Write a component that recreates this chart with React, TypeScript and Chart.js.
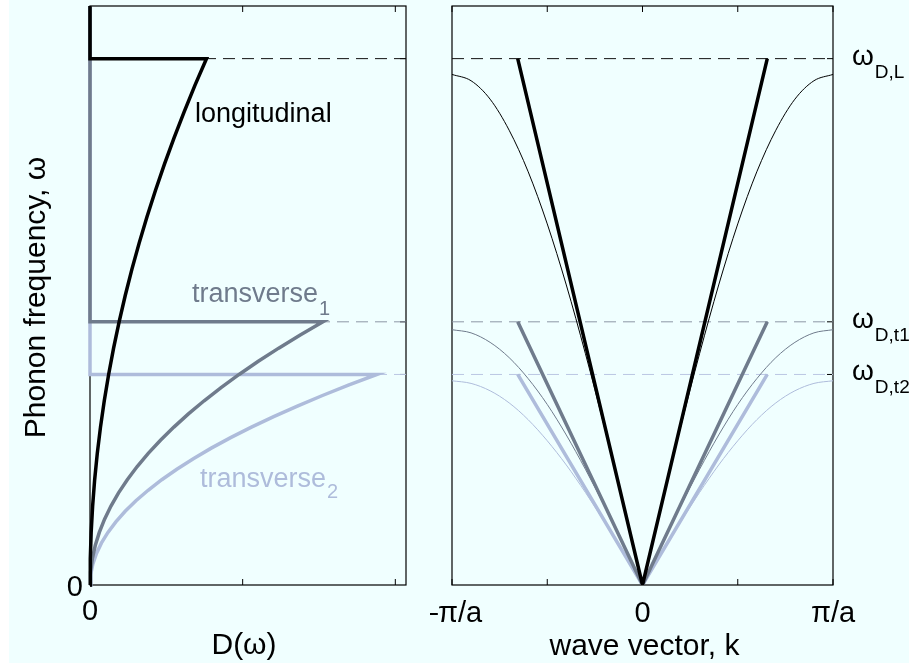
import React, { useEffect, useRef } from "react";
import { Chart, registerables } from "chart.js";

Chart.register(...registerables);

const FONT = "'Liberation Sans', Arial, Helvetica, sans-serif";
const BG = "#f0ffff";

// Branch colours: longitudinal, transverse 1, transverse 2
const colLon = "#000000";
const colT1 = "#6f7b8c";
const colT2 = "#aebcdb";
const dashLon = "#111111";
const dashT1 = "#8c96a5";
const dashT2 = "#bac7e3";

// Debye cut-off frequencies (units of the longitudinal cut-off)
const omegaDebye = [1.0, 0.5, 0.4];
const debyeSubs = ["D,L", "D,t1", "D,t2"];
// Debye wave vector, in units of pi/a
const kDebye = 0.655;

// Axis limits
const omegaMax = 1.1;
const dosMax = 2.07;

// Density of states D(omega) for each branch
const lonOmega = [0, 0.05, 0.1, 0.15, 0.2, 0.25, 0.3, 0.35, 0.4, 0.45, 0.5, 0.55, 0.6, 0.65, 0.7, 0.75, 0.8, 0.85, 0.9, 0.95, 1.0];
const lonDos = [0, 0.0019, 0.0076, 0.0172, 0.0305, 0.0477, 0.0687, 0.0935, 0.1221, 0.1545, 0.1908, 0.2308, 0.2747, 0.3224, 0.3739, 0.4292, 0.4883, 0.5513, 0.618, 0.6886, 0.763];

const t1Omega = [0, 0.025, 0.05, 0.075, 0.1, 0.125, 0.15, 0.175, 0.2, 0.225, 0.25, 0.275, 0.3, 0.325, 0.35, 0.375, 0.4, 0.425, 0.45, 0.475, 0.5];
const t1Dos = [0, 0.0038, 0.0153, 0.0343, 0.061, 0.0954, 0.1373, 0.1869, 0.2442, 0.309, 0.3815, 0.4616, 0.5494, 0.6447, 0.7477, 0.8584, 0.9766, 1.1025, 1.2361, 1.3772, 1.526];

const t2Omega = [0, 0.02, 0.04, 0.06, 0.08, 0.1, 0.12, 0.14, 0.16, 0.18, 0.2, 0.22, 0.24, 0.26, 0.28, 0.3, 0.32, 0.34, 0.36, 0.38, 0.4];
const t2Dos = [0, 0.0047, 0.0188, 0.0423, 0.0752, 0.1175, 0.1692, 0.2303, 0.3008, 0.3807, 0.47, 0.5687, 0.6768, 0.7943, 0.9212, 1.0575, 1.2032, 1.3583, 1.5228, 1.6967, 1.88];

// Lattice dispersion omega(k) for k >= 0 (mirror-symmetric in k)
const kGrid = [0, 0.1, 0.2, 0.3, 0.4, 0.5, 0.6, 0.7, 0.8, 0.9, 1.0];
const lonDisp = [0, 0.152, 0.3, 0.44, 0.57, 0.686, 0.785, 0.864, 0.923, 0.958, 0.97];
const t1Disp = [0, 0.076, 0.15, 0.22, 0.285, 0.343, 0.392, 0.432, 0.461, 0.479, 0.485];
const t2Disp = [0, 0.061, 0.12, 0.176, 0.228, 0.274, 0.314, 0.346, 0.369, 0.383, 0.388];

// Tick positions and labels
const dosTicks = [0, 1, 2];
const kTicks = [-1, -0.5, 0, 0.5, 1];
const kTickLabels: [number, string][] = [[-1, "\u2013\u03c0/a"], [0, "0"], [1, "\u03c0/a"]];

const branchColors = [colLon, colT1, colT2];
const dashColors = [dashLon, dashT1, dashT2];

type Pt = { x: number; y: number };

function dosPoints(dos: number[], om: number[], cut: number): Pt[] {
  const pts = dos.map((d, i) => ({ x: d, y: om[i] }));
  pts.push({ x: 0, y: cut });
  pts.push({ x: 0, y: omegaMax });
  return pts;
}

function dispHalf(vals: number[], sign: number): Pt[] {
  const pts = kGrid.map((k, i) => ({ x: sign * k, y: vals[i] }));
  return sign < 0 ? pts.reverse() : pts;
}

function seg(ctx: CanvasRenderingContext2D, x1: number, y1: number, x2: number, y2: number) {
  ctx.beginPath();
  ctx.moveTo(x1, y1);
  ctx.lineTo(x2, y2);
  ctx.stroke();
}

function subText(
  ctx: CanvasRenderingContext2D,
  main: string,
  sub: string,
  x: number,
  y: number,
  mainSize: number,
  subSize: number,
  dy: number,
  color: string
) {
  ctx.fillStyle = color;
  ctx.textAlign = "left";
  ctx.textBaseline = "alphabetic";
  ctx.font = `${mainSize}px ${FONT}`;
  ctx.fillText(main, x, y);
  const w = ctx.measureText(main).width;
  ctx.font = `${subSize}px ${FONT}`;
  ctx.fillText(sub, x + w + 1, y + dy);
}

function frame(chart: any, xTicks: number[], tickLen: number) {
  const { ctx, chartArea: a, scales } = chart;
  const x = scales.x;
  const y = scales.y;
  ctx.save();
  ctx.strokeStyle = "#000";
  ctx.lineWidth = 1.2;
  ctx.strokeRect(a.left, a.top, a.right - a.left, a.bottom - a.top);
  ctx.lineWidth = 1;
  xTicks.forEach((v) => {
    const px = x.getPixelForValue(v);
    seg(ctx, px, a.bottom, px, a.bottom - tickLen);
    seg(ctx, px, a.top, px, a.top + tickLen);
  });
  omegaDebye.forEach((v) => {
    const py = y.getPixelForValue(v);
    seg(ctx, a.right - tickLen, py, a.right, py);
  });
  ctx.restore();
}

const leftDecor = {
  id: "leftDecor",
  beforeDatasetsDraw(chart: any) {
    frame(chart, dosTicks, 6);
  },
  afterDraw(chart: any) {
    const { ctx, chartArea: a, scales } = chart;
    const x = scales.x;
    const y = scales.y;
    ctx.save();
    ctx.fillStyle = "#000";
    ctx.font = `29px ${FONT}`;
    ctx.textBaseline = "alphabetic";
    ctx.textAlign = "center";
    ctx.fillText("0", x.getPixelForValue(0), 620);
    ctx.textAlign = "right";
    ctx.fillText("0", a.left - 7, y.getPixelForValue(0) + 11);

    // axis titles
    ctx.font = `30px ${FONT}`;
    ctx.textAlign = "center";
    ctx.fillText("D(\u03c9)", (a.left + a.right) / 2 - 4, 654);
    ctx.save();
    ctx.translate(45, (a.top + a.bottom) / 2 + 2);
    ctx.rotate(-Math.PI / 2);
    ctx.fillText("Phonon frequency, \u03c9", 0, 0);
    ctx.restore();

    // branch labels
    ctx.font = `27px ${FONT}`;
    ctx.textAlign = "left";
    ctx.fillStyle = colLon;
    ctx.fillText("longitudinal", x.getPixelForValue(0.688), y.getPixelForValue(0.88));
    subText(ctx, "transverse", "1", x.getPixelForValue(0.668), y.getPixelForValue(0.538), 27, 20, 13, colT1);
    subText(ctx, "transverse", "2", x.getPixelForValue(0.72), y.getPixelForValue(0.186), 27, 20, 11, colT2);
    ctx.restore();
  },
};

const rightDecor = {
  id: "rightDecor",
  beforeDatasetsDraw(chart: any) {
    frame(chart, kTicks, 6);
  },
  afterDraw(chart: any) {
    const { ctx, chartArea: a, scales } = chart;
    const x = scales.x;
    const y = scales.y;
    ctx.save();
    ctx.fillStyle = "#000";
    ctx.font = `29px ${FONT}`;
    ctx.textBaseline = "alphabetic";
    ctx.textAlign = "center";
    kTickLabels.forEach(([v, s]) => ctx.fillText(s, x.getPixelForValue(v), 622));
    ctx.font = `30px ${FONT}`;
    ctx.fillText("wave vector, k", (a.left + a.right) / 2 + 2, 655);

    omegaDebye.forEach((v, i) => {
      const py = y.getPixelForValue(v);
      subText(ctx, "\u03c9", debyeSubs[i], a.right + 19, py + 6, 28, 19, 13, "#000");
    });
    ctx.restore();
  },
};

function lineSet(data: Pt[], color: string, width: number, order: number, extra: any = {}) {
  return {
    data,
    borderColor: color,
    backgroundColor: color,
    borderWidth: width,
    pointRadius: 0,
    showLine: true,
    fill: false,
    tension: 0,
    order,
    ...extra,
  };
}

function dashSet(level: number, x0: number, x1: number, color: string, order: number) {
  return lineSet([{ x: x0, y: level }, { x: x1, y: level }], color, 1, order, { borderDash: [12, 7] });
}

function baseOptions(xMin: number, xMax: number, padding: any) {
  return {
    animation: false as const,
    responsive: false,
    maintainAspectRatio: false,
    layout: { padding },
    plugins: { legend: { display: false }, tooltip: { enabled: false }, title: { display: false } },
    events: [] as any[],
    scales: {
      x: { type: "linear" as const, min: xMin, max: xMax, display: false },
      y: { type: "linear" as const, min: 0, max: omegaMax, display: false },
    },
  };
}

function DosPanel() {
  const ref = useRef<HTMLCanvasElement>(null);
  useEffect(() => {
    if (!ref.current) return;
    const datasets: any[] = [
      lineSet(dosPoints(lonDos, lonOmega, omegaDebye[0]), colLon, 3.5, 0, { clip: 3 }),
      lineSet(dosPoints(t1Dos, t1Omega, omegaDebye[1]), colT1, 3.5, 1, { clip: 3 }),
      lineSet(dosPoints(t2Dos, t2Omega, omegaDebye[2]), colT2, 3.5, 2, { clip: 3 }),
    ];
    omegaDebye.forEach((lev, i) => datasets.push(dashSet(lev, 0, dosMax, dashColors[i], 3 + i)));
    const chart = new Chart(ref.current, {
      type: "scatter",
      data: { datasets },
      options: baseOptions(0, dosMax, { left: 90, right: 24, top: 6, bottom: 81 }) as any,
      plugins: [leftDecor],
    });
    return () => chart.destroy();
  }, []);
  return (
    <canvas ref={ref} width={430} height={666} style={{ position: "absolute", left: 0, top: 0, width: 430, height: 666 }} />
  );
}

function DispersionPanel() {
  const ref = useRef<HTMLCanvasElement>(null);
  useEffect(() => {
    if (!ref.current) return;
    const datasets: any[] = [];
    const disp = [lonDisp, t1Disp, t2Disp];
    omegaDebye.forEach((wD, i) => {
      // linear Debye approximation
      datasets.push(
        lineSet(
          [{ x: -kDebye, y: wD }, { x: 0, y: 0 }, { x: kDebye, y: wD }],
          branchColors[i],
          3.5,
          i * 2,
          { clip: 0, borderJoinStyle: "miter" }
        )
      );
      // lattice dispersion, each half drawn separately around the cusp at k = 0
      [-1, 1].forEach((s) =>
        datasets.push(
          lineSet(dispHalf(disp[i], s), branchColors[i], 1, i * 2 + 1, { clip: 0, cubicInterpolationMode: "monotone" })
        )
      );
      datasets.push(dashSet(wD, -1, 1, dashColors[i], 10 + i));
    });
    const chart = new Chart(ref.current, {
      type: "scatter",
      data: { datasets },
      options: baseOptions(-1, 1, { left: 22, right: 76, top: 6, bottom: 81 }) as any,
      plugins: [rightDecor],
    });
    return () => chart.destroy();
  }, []);
  return (
    <canvas ref={ref} width={479} height={666} style={{ position: "absolute", left: 430, top: 0, width: 479, height: 666 }} />
  );
}

export default function App() {
  return (
    <div style={{ position: "fixed", left: 0, top: 0, width: 909, height: 666, background: "#ffffff", overflow: "hidden" }}>
      <div style={{ position: "absolute", left: 9, top: 0, width: 900, height: 663, background: BG }} />
      <DosPanel />
      <DispersionPanel />
    </div>
  );
}
